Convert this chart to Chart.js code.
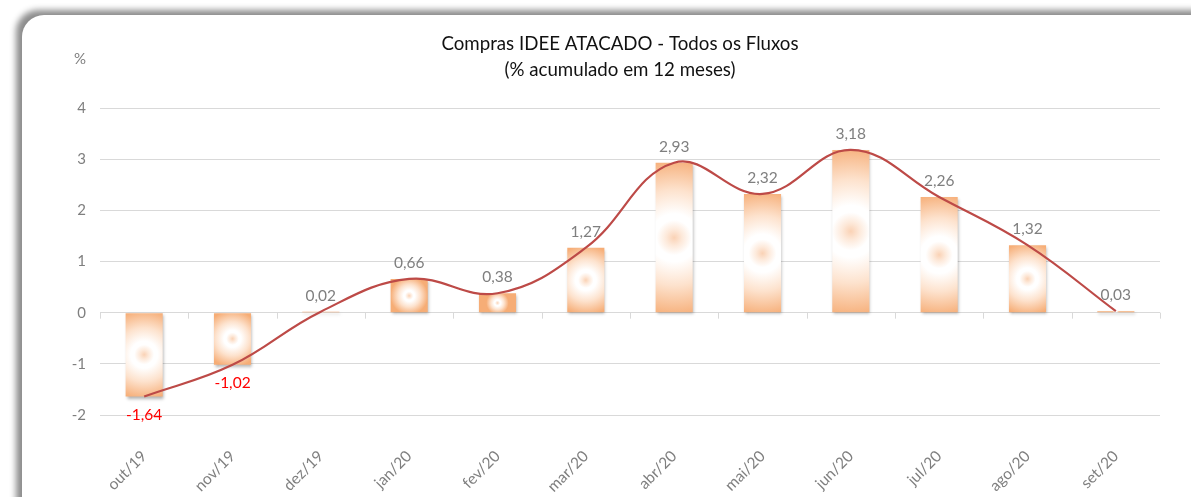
<!DOCTYPE html>
<html>
<head>
<meta charset="utf-8">
<script src="https://cdn.jsdelivr.net/npm/chart.js@4"></script>
<style>
  html, body { margin: 0; padding: 0; background: #fff; overflow: hidden; }
  #frame {
    position: absolute; left: 22px; top: 15px; width: 1220px; height: 540px;
    background: #fff; border-radius: 22px;
    box-shadow: -6px -5px 6px rgba(0,0,0,0.45);
  }
  #wrap { position: absolute; left: 0; top: 0; width: 1191px; height: 497px; }
</style>
</head>
<body>
<div id="frame"></div>
<div id="wrap"><canvas id="chart"></canvas></div>
<script>
// data
const months = ['out/19', 'nov/19', 'dez/19', 'jan/20', 'fev/20', 'mar/20',
                'abr/20', 'mai/20', 'jun/20', 'jul/20', 'ago/20', 'set/20'];
const accum12 = [-1.64, -1.02, 0.02, 0.66, 0.38, 1.27, 2.93, 2.32, 3.18, 2.26, 1.32, 0.03];
const yTicks = [-2, -1, 0, 1, 2, 3, 4];
const titleLines = ['Compras IDEE ATACADO - Todos os Fluxos', '(% acumulado em 12 meses)'];

const FONT = 'Lato, "Open Sans", sans-serif';
const GRAY = '#7f7f7f';

// radial fill per bar, like the excel gradient
function barFill(context) {
  const chart = context.chart;
  const area = chart.chartArea;
  if (!area) return '#f6b07a';
  const xs = chart.scales.x, ys = chart.scales.y;
  const v = accum12[context.dataIndex];
  const cx = xs.getPixelForValue(context.dataIndex);
  const yTop = ys.getPixelForValue(v), yBase = ys.getPixelForValue(0);
  const cy = (yTop + yBase) / 2;
  const h = Math.abs(yBase - yTop);
  const r = Math.max(h / 2 * 1.05, 2) + 1;
  const g = chart.ctx.createRadialGradient(cx, cy, 0, cx, cy, r);
  g.addColorStop(0, '#fad2b5');
  g.addColorStop(0.1, '#fde9da');
  g.addColorStop(0.22, '#ffffff');
  g.addColorStop(0.3, '#ffffff');
  g.addColorStop(0.6, '#fde2cd');
  g.addColorStop(1, '#f6ad76');
  return g;
}

const extras = {
  id: 'extras',
  beforeDatasetsDraw(chart) {
    const { ctx, scales } = chart;
    const y0 = scales.y.getPixelForValue(0);
    ctx.save();
    ctx.strokeStyle = '#d9d9d9';
    ctx.lineWidth = 1;
    for (let i = 0; i <= months.length; i++) {
      const x = Math.round(scales.x.getPixelForValue(i - 0.5)) + 0.5;
      ctx.beginPath();
      ctx.moveTo(x, y0);
      ctx.lineTo(x, y0 + 6);
      ctx.stroke();
    }
    ctx.restore();
  },
  beforeDatasetDraw(chart, args) {
    if (args.index === 0) {
      const ctx = chart.ctx;
      ctx.save();
      ctx.shadowColor = 'rgba(0,0,0,0.3)';
      ctx.shadowBlur = 3;
      ctx.shadowOffsetX = 1;
      ctx.shadowOffsetY = 2;
    }
  },
  afterDatasetDraw(chart, args) {
    if (args.index === 0) chart.ctx.restore();
  },
  afterDraw(chart) {
    const { ctx, scales } = chart;
    ctx.save();
    // title
    ctx.fillStyle = '#111';
    ctx.textAlign = 'center';
    ctx.textBaseline = 'middle';
    ctx.font = '18.7px ' + FONT;
    ctx.fillText(titleLines[0], 620, 44);
    ctx.fillText(titleLines[1], 620, 70);
    // unit
    ctx.fillStyle = GRAY;
    ctx.font = '15px ' + FONT;
    ctx.fillText('%', 80, 59);
    // value labels
    ctx.font = '15.5px ' + FONT;
    accum12.forEach((v, i) => {
      const x = scales.x.getPixelForValue(i);
      const y = scales.y.getPixelForValue(v);
      const txt = v.toFixed(2).replace('.', ',');
      if (v < 0) {
        ctx.fillStyle = '#ff0000';
        ctx.fillText(txt, x, y + 18);
      } else {
        ctx.fillStyle = GRAY;
        ctx.fillText(txt, x, y - 16);
      }
    });
    ctx.restore();
  }
};

new Chart(document.getElementById('chart'), {
  data: {
    labels: months,
    datasets: [
      {
        type: 'bar',
        data: accum12,
        backgroundColor: barFill,
        borderWidth: 0,
        categoryPercentage: 1,
        barPercentage: 0.42,
        order: 2
      },
      {
        type: 'line',
        data: accum12,
        borderColor: '#bd4a47',
        borderWidth: 2.2,
        pointRadius: 0,
        tension: 0.4,
        fill: false,
        order: 1
      }
    ]
  },
  options: {
    responsive: true,
    maintainAspectRatio: false,
    animation: false,
    layout: { padding: { left: 60, right: 31, top: 108, bottom: 0 } },
    plugins: {
      legend: { display: false },
      tooltip: { enabled: false }
    },
    scales: {
      x: {
        offset: true,
        grid: { display: false },
        border: { display: false },
        ticks: {
          color: GRAY,
          font: { family: FONT, size: 15.5 },
          minRotation: 45,
          maxRotation: 45,
          padding: 24
        },
        afterFit: (s) => { s.height = 82; }
      },
      y: {
        min: -2,
        max: 4,
        afterBuildTicks: (s) => { s.ticks = yTicks.map(v => ({ value: v })); },
        grid: { color: '#d9d9d9', drawTicks: false },
        border: { display: false },
        ticks: {
          color: GRAY,
          font: { family: FONT, size: 15 },
          padding: 14
        },
        afterFit: (s) => { s.width = 40; }
      }
    }
  },
  plugins: [extras]
});
</script>
</body>
</html>
